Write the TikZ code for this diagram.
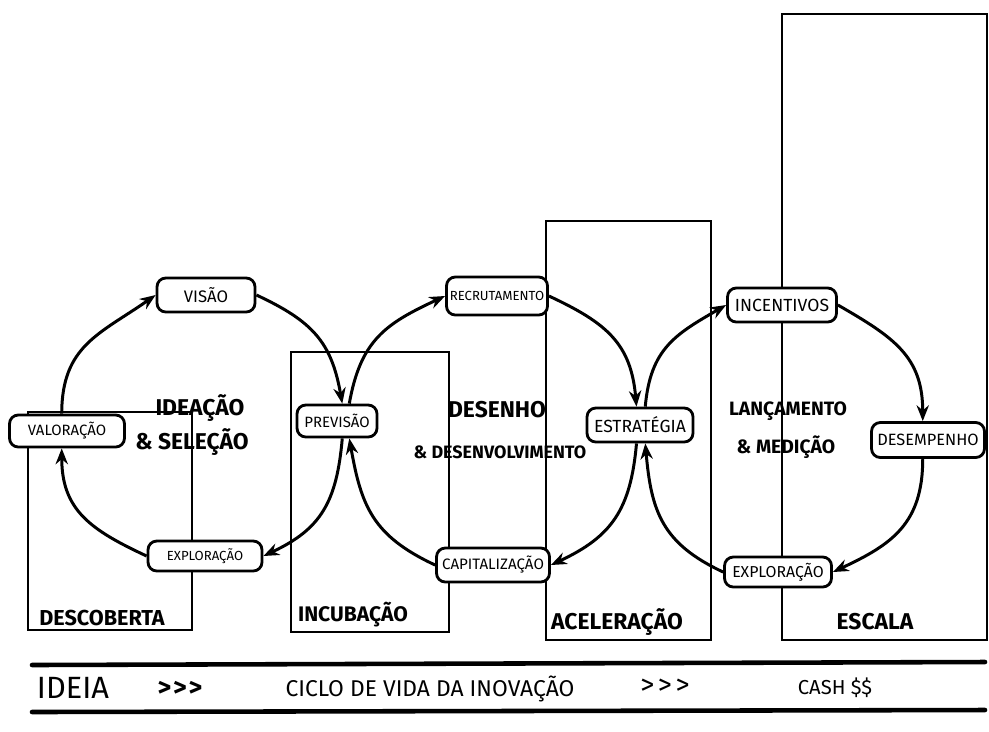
\documentclass[tikz,border=0pt]{standalone}
\usepackage{fontspec}
\setmainfont{Fira Sans}
\usetikzlibrary{arrows.meta}
\tikzset{
  stagebar/.style={draw, line width=1.1pt},
  stagebox/.style={draw, line width=1.6pt, rounded corners=5pt, fill=white, inner sep=1pt,
    font=\fontsize{7.5}{8}\selectfont},
  cycarrow/.style={line width=1.7pt, looseness=1.15, -{Stealth[length=9pt,width=7pt]}},
  centertext/.style={font=\bfseries\fontsize{13}{14}\selectfont, inner sep=1pt},
  stagelabel/.style={font=\bfseries\fontsize{12}{13}\selectfont, inner sep=1pt},
  bottomtext/.style={font=\fontsize{13}{14}\selectfont, inner sep=1pt},
  rule/.style={line width=2.6pt, line cap=round}
}
\begin{document}
\begin{tikzpicture}[x=0.02cm,y=-0.02cm]
\useasboundingbox (0,0) rectangle (989,731);
% stage bars
\draw[stagebar] (28,412) rectangle (192,630);
\draw[stagebar] (291,352) rectangle (449,632);
\draw[stagebar] (546,221) rectangle (711,640);
\draw[stagebar] (782,14) rectangle (987,640);
% centre texts
\node[centertext] (t1a) at (200,408) {IDEAÇÃO};
\node[centertext] (t1b) at (192,442) {\& SELEÇÃO};
\node[centertext] (t2a) at (497,410) {DESENHO};
\node[centertext, font=\bfseries\fontsize{10.2}{11}\selectfont] (t2b) at (500,452) {\& DESENVOLVIMENTO};
\node[centertext, font=\bfseries\fontsize{11}{12}\selectfont] (t3a) at (788,411) {LANÇAMENTO};
\node[centertext, font=\bfseries\fontsize{11}{12}\selectfont] (t3b) at (786,447) {\& MEDIÇÃO};
% stage labels
\node[stagelabel, font=\bfseries\fontsize{12.3}{13}\selectfont] (s1) at (102,618) {DESCOBERTA};
\node[stagelabel] (s2) at (353,615) {INCUBAÇÃO};
\node[stagelabel, font=\bfseries\fontsize{13}{14}\selectfont] (s3) at (617,622) {ACELERAÇÃO};
\node[stagelabel, font=\bfseries\fontsize{13}{14}\selectfont] (s4) at (875,622) {ESCALA};
% boxes
\node[stagebox, minimum width=1.96cm, minimum height=0.68cm, font=\fontsize{9.5}{10}\selectfont] (visao) at (206,295) {VISÃO};
\node[stagebox, minimum width=2.30cm, minimum height=0.64cm, font=\fontsize{8.5}{9}\selectfont] (valor) at (67,431) {VALORAÇÃO};
\node[stagebox, minimum width=2.28cm, minimum height=0.60cm, font=\fontsize{7.5}{8}\selectfont] (explo1) at (205,556) {EXPLORAÇÃO};
\node[stagebox, minimum width=1.60cm, minimum height=0.64cm, font=\fontsize{8.5}{9}\selectfont] (previsao) at (337,421) {PREVISÃO};
\node[stagebox, minimum width=2.02cm, minimum height=0.76cm, font=\fontsize{7.5}{8}\selectfont] (recrut) at (497,296) {RECRUTAMENTO};
\node[stagebox, minimum width=2.12cm, minimum height=0.68cm, font=\fontsize{10}{11}\selectfont] (estrat) at (640,425) {ESTRATÉGIA};
\node[stagebox, minimum width=2.26cm, minimum height=0.68cm, font=\fontsize{8.6}{9}\selectfont] (capital) at (493,565) {CAPITALIZAÇÃO};
\node[stagebox, minimum width=2.18cm, minimum height=0.68cm, font=\fontsize{10}{11}\selectfont] (incent) at (782,305) {INCENTIVOS};
\node[stagebox, minimum width=2.26cm, minimum height=0.70cm, font=\fontsize{9.3}{10}\selectfont] (desemp) at (928,440) {DESEMPENHO};
\node[stagebox, minimum width=2.14cm, minimum height=0.60cm, font=\fontsize{9}{10}\selectfont] (explo2) at (778,572) {EXPLORAÇÃO};
% cycle 1
\draw[cycarrow] ([xshift=-3pt]valor.north) to[out=90,in=-145] (visao.west);
\draw[cycarrow] (visao.east) to[out=-25,in=100] ([xshift=3pt]previsao.north);
\draw[cycarrow] ([xshift=3pt]previsao.south) to[out=-95,in=25] (explo1.east);
\draw[cycarrow] (explo1.west) to[out=155,in=-90] ([xshift=-3pt]valor.south);
% cycle 2
\draw[cycarrow] ([xshift=7pt]previsao.north) to[out=80,in=-155] (recrut.west);
\draw[cycarrow] (recrut.east) to[out=-25,in=95] ([xshift=-2pt]estrat.north);
\draw[cycarrow] ([xshift=-2pt]estrat.south) to[out=-95,in=25] (capital.east);
\draw[cycarrow] (capital.west) to[out=155,in=-80] ([xshift=7pt]previsao.south);
% cycle 3
\draw[cycarrow] ([xshift=3pt]estrat.north) to[out=85,in=-150] (incent.west);
\draw[cycarrow] (incent.east) to[out=-30,in=90] ([xshift=-3pt]desemp.north);
\draw[cycarrow] ([xshift=-3pt]desemp.south) to[out=-90,in=25] (explo2.east);
\draw[cycarrow] (explo2.west) to[out=155,in=-85] ([xshift=3pt]estrat.south);
% bottom band
\coordinate (r1a) at (32,665);
\coordinate (r1b) at (985,662);
\coordinate (r2a) at (32,712);
\coordinate (r2b) at (985,710);
\draw[rule] (r1a) -- (r1b);
\draw[rule] (r2a) -- (r2b);
\node[bottomtext, font=\fontsize{17.5}{18}\selectfont] (b1) at (73,688) {IDEIA};
\node[bottomtext, font=\bfseries\fontsize{15}{16}\selectfont] (b2) at (180,689) {>\kern1pt>\kern1pt>};
\node[bottomtext] (b3) at (430,689) {CICLO DE VIDA DA INOVAÇÃO};
\node[bottomtext, font=\fontsize{16}{17}\selectfont] (b4) at (665,687) {>\kern2pt>\kern2pt>};
\node[bottomtext, font=\fontsize{11.5}{12}\selectfont] (b5) at (835,688) {CASH \$\$};
\end{tikzpicture}
\end{document}
